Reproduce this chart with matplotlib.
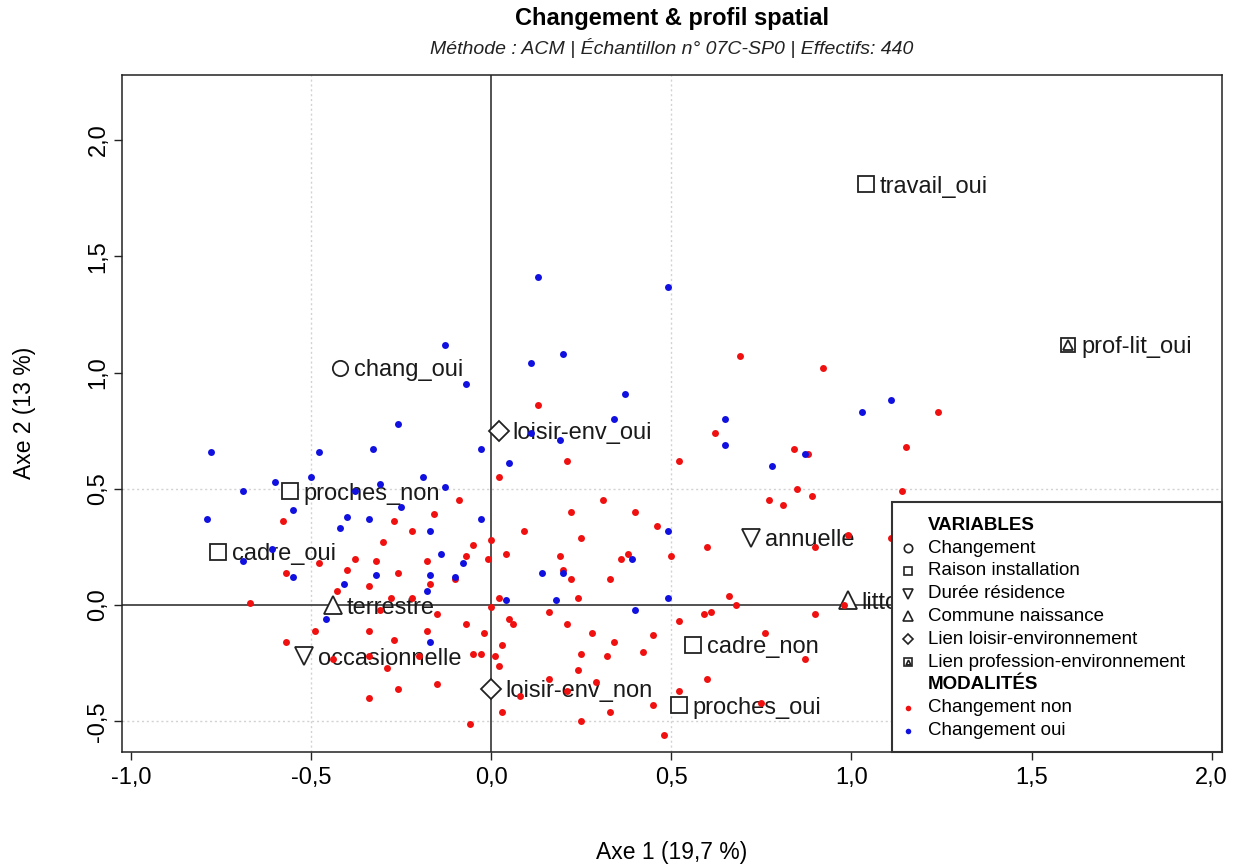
import matplotlib
matplotlib.use("Agg")
import matplotlib.pyplot as plt
from matplotlib.patches import Rectangle

plt.rcParams['font.family'] = ['Liberation Sans', 'DejaVu Sans']

# individuals, "Changement oui" (blue)
oui_x = [0.13, 0.49, -0.13, -0.07, 0.11, 0.20, 0.37, 0.34, 0.65, -0.26, 0.11, 0.19,
         0.65, 1.03, 1.11, 0.87, 0.78, -0.78, -0.48, -0.33, -0.03, 0.05, -0.60, -0.50,
         -0.19, -0.69, -0.38, -0.31, -0.13, -0.55, -0.25, -0.79, -0.40, -0.34, -0.03,
         -0.42, -0.17, 0.49, -0.61, -0.69, -0.14, -0.08, 0.39, -0.55, -0.32, -0.17,
         -0.10, 0.14, 0.20, -0.41, -0.18, 0.04, 0.18, 0.49, -0.46, 0.40, -0.17]
oui_y = [1.41, 1.37, 1.12, 0.95, 1.04, 1.08, 0.91, 0.80, 0.80, 0.78, 0.74, 0.71,
         0.69, 0.83, 0.88, 0.65, 0.60, 0.66, 0.66, 0.67, 0.67, 0.61, 0.53, 0.55,
         0.55, 0.49, 0.49, 0.52, 0.51, 0.41, 0.42, 0.37, 0.38, 0.37, 0.37,
         0.33, 0.32, 0.32, 0.24, 0.19, 0.22, 0.18, 0.20, 0.12, 0.13, 0.13,
         0.12, 0.14, 0.14, 0.09, 0.06, 0.02, 0.02, 0.03, -0.06, -0.02, -0.16]

# individuals, "Changement non" (red)
non_x = [0.69, 0.92, 0.13, 1.24, 0.62, 0.84, 0.88, 1.15, 0.21, 0.52, 0.02, 0.85,
         0.89, 1.14, 0.77, 0.81, -0.09, 0.31, -0.58, -0.27, -0.16, 0.22, 0.40, -0.22,
         0.09, 0.46, -0.30, -0.05, 0.00, 0.25, 0.60, 0.90, 0.99, 1.11, -0.38, -0.32,
         -0.48, -0.18, -0.07, -0.01, 0.04, 0.19, 0.36, 0.38, 0.50, -0.57, -0.40, -0.26,
         -0.10, -0.17, 0.20, 0.22, 0.33, -0.34, -0.43, -0.67, -0.28, -0.22, -0.31, 0.02,
         0.24, 0.66, 0.68, 0.00, 0.05, 0.06, -0.15, -0.07, 0.16, 0.21, 0.52, 0.59,
         0.61, 0.90, 0.98, -0.49, -0.34, -0.18, -0.02, 0.28, 0.34, 0.45, 0.76, -0.57,
         -0.27, 0.03, -0.44, -0.34, -0.29, -0.20, -0.05, -0.03, 0.01, 0.02, 0.25, 0.32,
         0.42, 0.87, 0.24, 0.16, 0.29, 0.52, 0.60, -0.26, -0.15, -0.34, 0.08, 0.21,
         0.75, 0.03, 0.33, 0.45, -0.06, 0.25, 0.48]
non_y = [1.07, 1.02, 0.86, 0.83, 0.74, 0.67, 0.65, 0.68, 0.62, 0.62, 0.55, 0.50,
         0.47, 0.49, 0.45, 0.43, 0.45, 0.45, 0.36, 0.36, 0.39, 0.40, 0.40, 0.32,
         0.32, 0.34, 0.27, 0.26, 0.28, 0.29, 0.25, 0.25, 0.30, 0.29, 0.20, 0.19,
         0.18, 0.19, 0.21, 0.20, 0.22, 0.21, 0.20, 0.22, 0.21, 0.14, 0.15, 0.14,
         0.11, 0.09, 0.15, 0.11, 0.11, 0.08, 0.06, 0.01, 0.03, 0.03, -0.02, 0.03,
         0.03, 0.04, 0.00, -0.01, -0.06, -0.08, -0.04, -0.08, -0.03, -0.08, -0.07, -0.04,
         -0.03, -0.04, 0.00, -0.11, -0.11, -0.11, -0.12, -0.12, -0.16, -0.13, -0.12, -0.16,
         -0.15, -0.17, -0.23, -0.22, -0.27, -0.22, -0.21, -0.21, -0.22, -0.26, -0.21, -0.22,
         -0.20, -0.23, -0.28, -0.32, -0.33, -0.37, -0.32, -0.36, -0.34, -0.40, -0.39, -0.37,
         -0.42, -0.46, -0.46, -0.43, -0.51, -0.50, -0.56]

# categories (modalities of the active variables)
cat_labels = ['chang_oui', 'travail_oui', 'proches_non', 'cadre_oui', 'cadre_non', 'proches_oui',
              'annuelle', 'occasionnelle', 'terrestre', 'littoral',
              'loisir-env_oui', 'loisir-env_non', 'prof-lit_oui']
cat_x = [-0.42, 1.04, -0.56, -0.76, 0.56, 0.52, 0.72, -0.52, -0.44, 0.99, 0.02, 0.00, 1.60]
cat_y = [1.02, 1.81, 0.49, 0.23, -0.17, -0.43, 0.29, -0.22, 0.00, 0.02, 0.75, -0.36, 1.12]
cat_var = ['chang', 'raison', 'raison', 'raison', 'raison', 'raison',
           'duree', 'duree', 'naiss', 'naiss', 'loisir', 'loisir', 'prof']

var_names = ['Changement', 'Raison installation', 'Durée résidence', 'Commune naissance',
             'Lien loisir-environnement', 'Lien profession-environnement']
var_keys = ['chang', 'raison', 'duree', 'naiss', 'loisir', 'prof']
markers = {'chang': ('o', 11), 'raison': ('s', 11), 'duree': ('v', 13),
           'naiss': ('^', 13), 'loisir': ('D', 10), 'prof': ('s', 10)}

fig = plt.figure(figsize=(12.35, 8.67), dpi=100)
ax = fig.add_axes([122 / 1235, 1 - 752 / 867, 1100 / 1235, 677 / 867])

ax.set_xlim(-1.026, 2.029)
ax.set_ylim(-0.632, 2.28)

# reference lines
for v in [-0.5, 0.5]:
    ax.axvline(v, color='#d2d2d2', lw=1, ls=(0, (1.5, 2)), zorder=0)
    ax.axhline(v, color='#d2d2d2', lw=1, ls=(0, (1.5, 2)), zorder=0)
ax.axvline(0, color='#444444', lw=1.3, zorder=1)
ax.axhline(0, color='#444444', lw=1.3, zorder=1)

# category markers and labels
for lab, x, y, var in zip(cat_labels, cat_x, cat_y, cat_var):
    m, ms = markers[var]
    ax.plot(x, y, marker=m, ms=ms, mfc='white', mec='#222222', mew=1.3, ls='none', zorder=2)
    if var == 'prof':
        ax.plot(x, y, marker='^', ms=6.5, mfc='none', mec='#222222', mew=1.3, ls='none', zorder=2)
    ax.annotate(lab, (x, y), xytext=(10, 0), textcoords='offset points',
                ha='left', va='center_baseline', fontsize=17, color='#1a1a1a', zorder=2)

# individuals on top
ax.plot(non_x, non_y, 'o', ms=5, color='#f01010', mec='none', zorder=3)
ax.plot(oui_x, oui_y, 'o', ms=5, color='#1010e0', mec='none', zorder=3)

# ticks
ax.set_xticks([-1.0, -0.5, 0.0, 0.5, 1.0, 1.5, 2.0])
ax.set_yticks([-0.5, 0.0, 0.5, 1.0, 1.5, 2.0])
ax.set_xticklabels([f"{t:.1f}".replace('.', ',') for t in ax.get_xticks()])
ax.set_yticklabels([f"{t:.1f}".replace('.', ',') for t in ax.get_yticks()],
                   rotation=90, va='center')
ax.tick_params(axis='both', length=6, width=1, labelsize=17, color='#222222')
ax.tick_params(axis='x', pad=5)
ax.tick_params(axis='y', pad=3)
for s in ax.spines.values():
    s.set_color('#222222')
    s.set_linewidth(1.1)

# titles
fig.text(672 / 1235, 1 - 18 / 867, 'Changement & profil spatial', ha='center', va='center',
         fontsize=17, fontweight='bold')
fig.text(672 / 1235, 1 - 48 / 867, 'Méthode : ACM | Échantillon n° 07C-SP0 | Effectifs: 440',
         ha='center', va='center', fontsize=14, style='italic', color='#222222')
fig.text(672 / 1235, 1 - 852 / 867, 'Axe 1 (19,7 %)', ha='center', va='center', fontsize=16.5)
fig.text(25 / 1235, 1 - 413 / 867, 'Axe 2 (13 %)', ha='center', va='center', fontsize=16.5,
         rotation=90)

# legend box (bottom right)
ax.add_patch(Rectangle((0.70, 0.0), 0.30, 0.369, transform=ax.transAxes,
                       facecolor='white', edgecolor='#333333', lw=1.5, zorder=10, clip_on=False))
mx, tx = 0.7145, 0.7327
y0, dy = 0.335, 0.0337
ax.text(tx, y0, 'VARIABLES', transform=ax.transAxes, fontsize=13.5, fontweight='bold',
        va='center', zorder=11)
for i, (name, key) in enumerate(zip(var_names, var_keys)):
    yy = y0 - (i + 1) * dy
    m, ms = markers[key]
    ax.plot(mx, yy, marker=m, ms=ms * 0.55, mfc='white', mec='#222222', mew=1.2,
            transform=ax.transAxes, clip_on=False, zorder=11)
    if key == 'prof':
        ax.plot(mx, yy, marker='^', ms=3.4, mfc='none', mec='#222222', mew=1.2,
                transform=ax.transAxes, clip_on=False, zorder=11)
    ax.text(tx, yy, name, transform=ax.transAxes, fontsize=13.5, va='center', zorder=11)
ax.text(tx, y0 - 7 * dy, 'MODALITÉS', transform=ax.transAxes, fontsize=13.5,
        fontweight='bold', va='center', zorder=11)
for i, (name, col) in enumerate([('Changement non', '#f01010'), ('Changement oui', '#1010e0')]):
    yy = y0 - (8 + i) * dy
    ax.plot(mx, yy, 'o', ms=4, color=col, mec='none', transform=ax.transAxes,
            clip_on=False, zorder=11)
    ax.text(tx, yy, name, transform=ax.transAxes, fontsize=13.5, va='center', zorder=11)

fig.savefig('out.png', dpi=100)
